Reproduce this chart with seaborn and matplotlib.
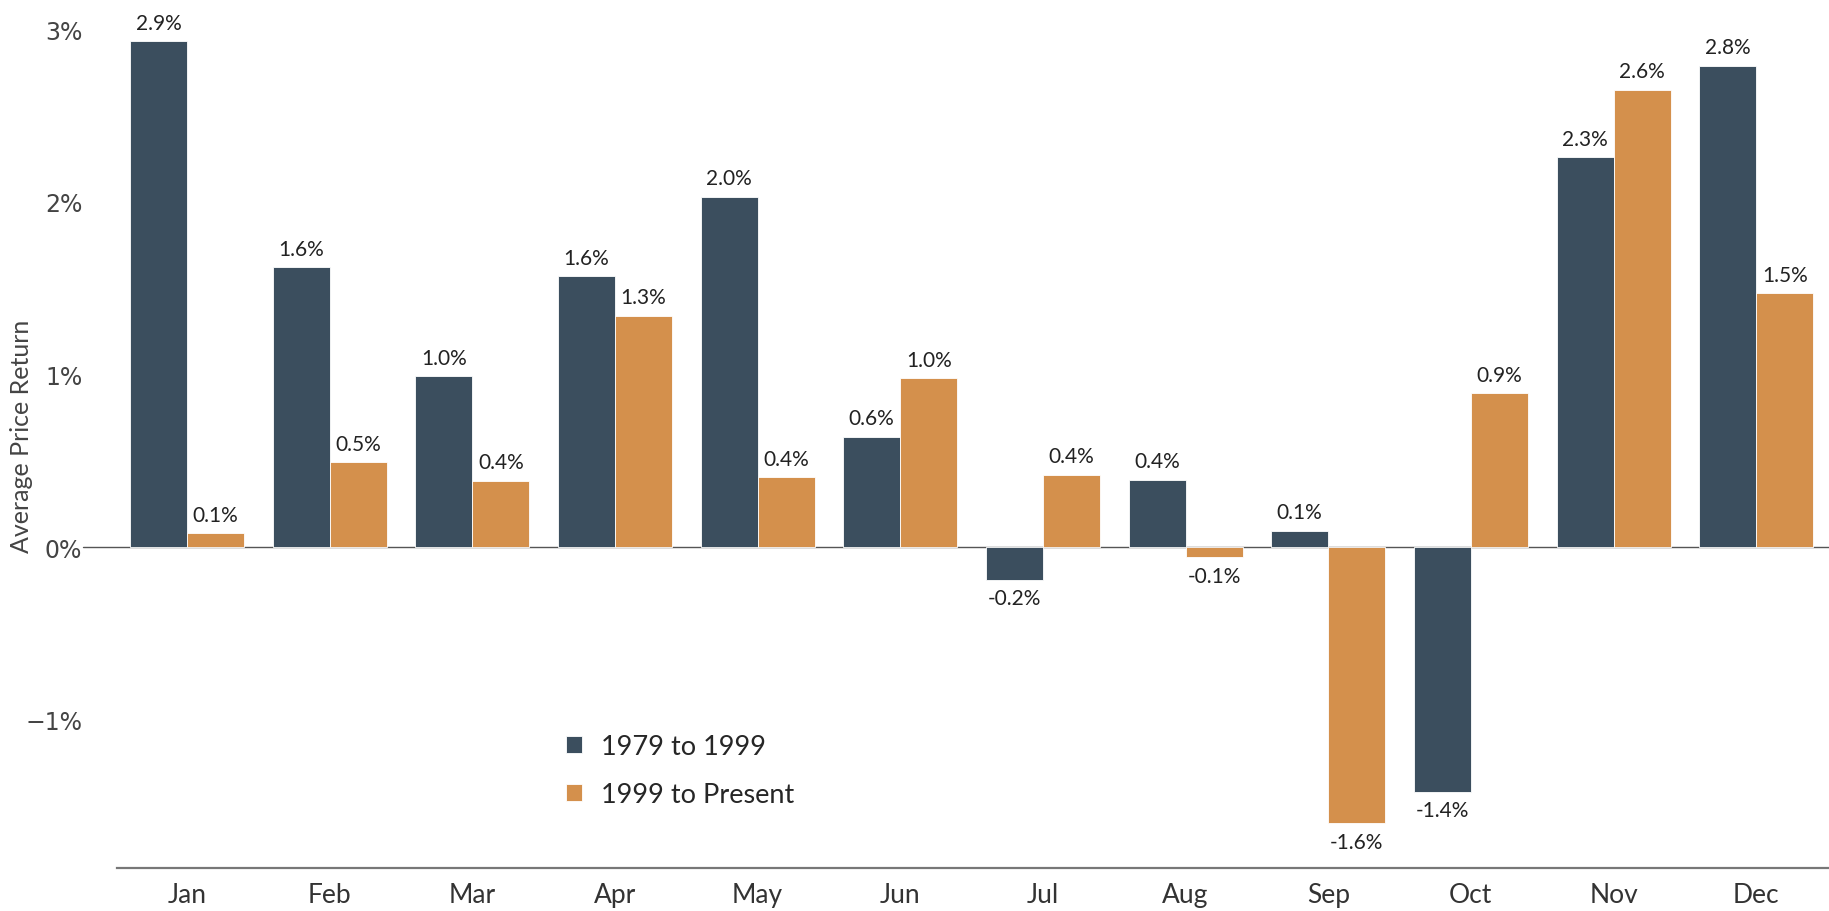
import pandas as pd
import seaborn as sns
from matplotlib import pyplot as plt
from matplotlib import ticker as mticker

months = ['Jan', 'Feb', 'Mar', 'Apr', 'May', 'Jun',
          'Jul', 'Aug', 'Sep', 'Oct', 'Nov', 'Dec']
periods = ['1979 to 1999', '1999 to Present']
early = [2.93, 1.62, 0.99, 1.57, 2.03, 0.64, -0.19, 0.39, 0.095, -1.42, 2.26, 2.79]
late = [0.08, 0.49, 0.385, 1.34, 0.405, 0.98, 0.42, -0.06, -1.60, 0.89, 2.65, 1.47]
yticks = [-1, 0, 1, 2, 3]

colors = ['#3B4E5E', '#D4904C']

df = pd.DataFrame({
    'month': months * 2,
    'period': [periods[0]] * 12 + [periods[1]] * 12,
    'ret': early + late,
})

sns.set_style('white')
plt.rcParams['font.family'] = ['Lato', 'DejaVu Sans']

fig = plt.figure(figsize=(18.29, 9.12), dpi=100)
ax = fig.add_axes([0.064, 0.0471, 0.936, 0.9386])

sns.barplot(data=df, x='month', y='ret', hue='period', order=months,
            hue_order=periods, palette=colors, width=0.8, ax=ax,
            edgecolor='white', linewidth=0.6, saturation=1)

for cont in ax.containers:
    ax.bar_label(cont, labels=['{:.1f}%'.format(v) for v in cont.datavalues],
                 padding=6, fontsize=15, color='#222222')

ax.set_xlim(-0.49, 11.51)
ax.set_ylim(-1.86, 3.1)
ax.set_yticks(yticks)
ax.yaxis.set_major_formatter(mticker.FuncFormatter(
    lambda v, p: '{:.0f}%'.format(v).replace('-', '\u2212')))
ax.tick_params(axis='y', length=0, pad=25, labelsize=17, labelcolor='#444444')
for lab in ax.get_yticklabels():
    lab.set_family('DejaVu Sans')
ax.tick_params(axis='x', length=0, pad=10, labelsize=19, labelcolor='#333333')

ax.set_xlabel('')
ax.set_ylabel('Average Price Return', fontsize=18, color='#444444',
              fontstretch='condensed')
ax.yaxis.set_label_coords(-0.049, 0.505)

ax.axhline(0, xmin=-0.02, color='#555555', lw=1, clip_on=False, zorder=0)

for s in ['top', 'right', 'left']:
    ax.spines[s].set_visible(False)
ax.spines['bottom'].set_color('#777777')
ax.spines['bottom'].set_linewidth(1.6)

handles, labels = ax.get_legend_handles_labels()
ax.legend(handles, labels, loc='center left', bbox_to_anchor=(0.262, 0.114),
          frameon=False, fontsize=19.5, handlelength=0.6, handleheight=0.6,
          handletextpad=0.7, labelspacing=0.85, borderpad=0, borderaxespad=0)

fig.savefig('out.png', dpi=100)
plt.close(fig)
